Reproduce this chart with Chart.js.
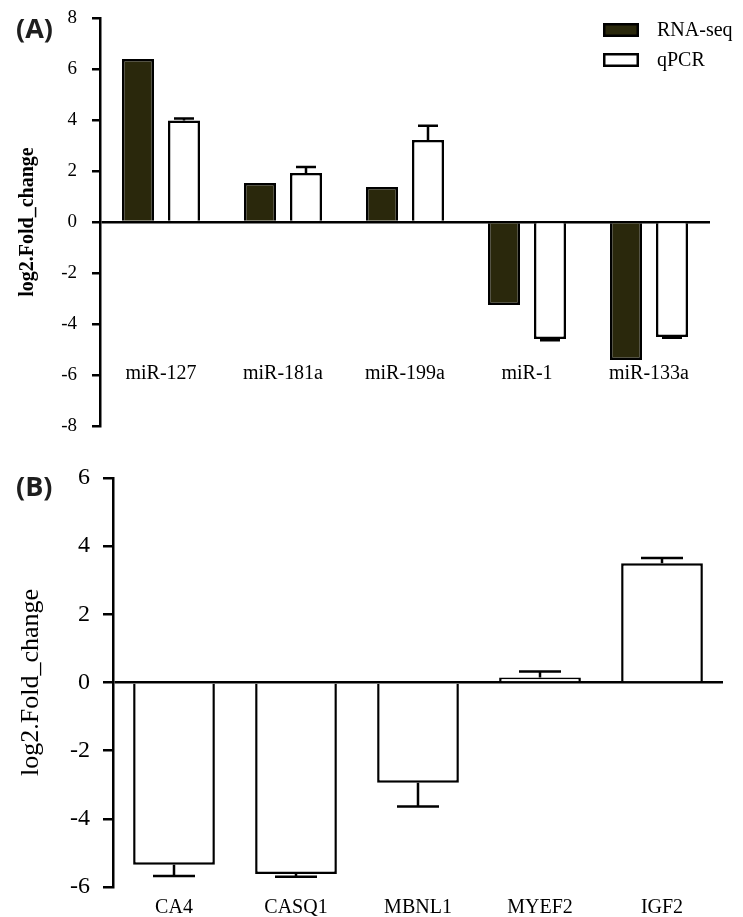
<!DOCTYPE html>
<html>
<head>
<meta charset="utf-8">
<title>log2 fold change</title>
<script src="https://cdn.jsdelivr.net/npm/chart.js@4"></script>
<style>
  body { margin: 0; background: #fff; }
  #wrap { position: relative; width: 743px; height: 917px; }
  .panel { position: absolute; left: 0; width: 743px; }
  #boxA { top: 0; height: 440px; }
  #boxB { top: 440px; height: 477px; }
  .tag { position: absolute; left: 16px; font-family: "Open Sans"; font-weight: bold; font-size: 27px; line-height: 27px; color: #1e1e1e; }
</style>
</head>
<body>
<div id="wrap">
  <div class="panel" id="boxA"><canvas id="chartA"></canvas></div>
  <div class="panel" id="boxB"><canvas id="chartB"></canvas></div>
  <div class="tag" style="top:14px">(A)</div>
  <div class="tag" style="top:472px">(B)</div>
</div>
<script>
// Panel A: miRNAs, RNA-seq vs qPCR
const miRNAs = ['miR-127', 'miR-181a', 'miR-199a', 'miR-1', 'miR-133a'];
const rnaSeq = [6.39, 1.53, 1.37, -3.25, -5.41];
const qpcrMiR = [3.98, 1.92, 3.22, -4.59, -4.51];
const qpcrMiRErr = [0.08, 0.24, 0.55, 0.05, 0.03];

// Panel B: genes, qPCR only
const genes = ['CA4', 'CASQ1', 'MBNL1', 'MYEF2', 'IGF2'];
const qpcrGene = [-5.35, -5.62, -2.94, 0.15, 3.50];
const qpcrGeneErr = [0.33, 0.08, 0.70, 0.17, 0.15];

const serif = '"Liberation Serif", "Times New Roman", serif';
const darkFill = '#2a280c';

// draws one-sided error bars away from zero
const errorBars = {
    id: 'errorBars',
    afterDatasetsDraw(chart, args, opts) {
        const ctx = chart.ctx;
        const yScale = chart.scales.y;
        chart.data.datasets.forEach((ds, di) => {
            if (!ds.errors) return;
            const meta = chart.getDatasetMeta(di);
            meta.data.forEach((bar, i) => {
                const v = ds.data[i];
                const e = ds.errors[i];
                const end = yScale.getPixelForValue(v < 0 ? v - e : v + e);
                ctx.save();
                ctx.strokeStyle = '#000';
                ctx.lineWidth = opts.width;
                ctx.beginPath();
                ctx.moveTo(bar.x, bar.y);
                ctx.lineTo(bar.x, end);
                ctx.moveTo(bar.x - opts.cap / 2, end);
                ctx.lineTo(bar.x + opts.cap / 2, end);
                ctx.stroke();
                ctx.restore();
            });
        });
    }
};

// simple box legend in the top right corner
const boxLegend = {
    id: 'boxLegend',
    afterDraw(chart, args, opts) {
        const ctx = chart.ctx;
        chart.data.datasets.forEach((ds, i) => {
            const y = opts.y + i * opts.rowGap;
            ctx.save();
            ctx.fillStyle = ds.backgroundColor;
            ctx.fillRect(opts.x, y, opts.w, opts.h);
            ctx.strokeStyle = '#000';
            ctx.lineWidth = 2.5;
            ctx.strokeRect(opts.x + 1.25, y + 1.25, opts.w - 2.5, opts.h - 2.5);
            ctx.fillStyle = '#000';
            ctx.font = '20px ' + serif;
            ctx.textBaseline = 'middle';
            ctx.fillText(ds.label, opts.x + opts.textGap, y + opts.h / 2 + 1);
            ctx.restore();
        });
    }
};

const zeroGrid = (tickLen, tickW) => ({
    color: c => (c.tick && c.tick.value === 0) ? '#000' : 'rgba(0,0,0,0)',
    lineWidth: 2.5,
    tickColor: '#000',
    tickLength: tickLen,
    tickWidth: tickW
});

// fixed axis width; drop the extra top/bottom room the tick padding asks for
const fixY = w => s => {
    s.width = w;
    s.paddingTop = 0;
    s.paddingBottom = 0;
};

const chartA = new Chart(document.getElementById('chartA'), {
    type: 'bar',
    data: {
        labels: miRNAs,
        datasets: [
            {
                label: 'RNA-seq',
                data: rnaSeq,
                backgroundColor: darkFill,
                borderColor: '#000',
                borderWidth: 2.5,
                categoryPercentage: 0.754,
                barPercentage: 0.696
            },
            {
                label: 'qPCR',
                data: qpcrMiR,
                errors: qpcrMiRErr,
                backgroundColor: '#fff',
                borderColor: '#000',
                borderWidth: 2.5,
                categoryPercentage: 0.754,
                barPercentage: 0.696
            }
        ]
    },
    options: {
        responsive: true,
        maintainAspectRatio: false,
        animation: false,
        layout: { padding: { top: 18, bottom: 14, left: 0, right: 33 } },
        plugins: {
            legend: { display: false },
            tooltip: { enabled: false },
            errorBars: { width: 2.5, cap: 20 },
            boxLegend: { x: 603, y: 23, w: 36, h: 14, rowGap: 30, textGap: 54 }
        },
        scales: {
            x: {
                // labels sit inside the plot, level with the -6 tick
                position: { y: -5 },
                grid: { display: false, drawTicks: false },
                border: { display: false },
                ticks: { color: '#000', font: { family: serif, size: 20 }, padding: 12 }
            },
            y: {
                min: -8,
                max: 8,
                ticks: { stepSize: 2, color: '#000', font: { family: serif, size: 19 }, padding: 15 },
                grid: zeroGrid(8, 2.5),
                border: { display: true, color: '#000', width: 2.5 },
                title: {
                    display: true,
                    text: 'log2.Fold_change',
                    color: '#000',
                    font: { family: serif, size: 20, weight: 'bold' },
                    padding: { top: 16, bottom: 0 }
                },
                afterFit: fixY(100)
            }
        }
    },
    plugins: [errorBars, boxLegend]
});

const chartB = new Chart(document.getElementById('chartB'), {
    type: 'bar',
    data: {
        labels: genes,
        datasets: [{
            label: 'qPCR',
            data: qpcrGene,
            errors: qpcrGeneErr,
            backgroundColor: '#fff',
            borderColor: '#000',
            borderWidth: 2.5,
            categoryPercentage: 1,
            barPercentage: 0.67
        }]
    },
    options: {
        responsive: true,
        maintainAspectRatio: false,
        animation: false,
        layout: { padding: { top: 38, bottom: 0, left: 0, right: 20 } },
        plugins: {
            legend: { display: false },
            tooltip: { enabled: false },
            errorBars: { width: 2.5, cap: 42 }
        },
        scales: {
            x: {
                position: 'bottom',
                grid: { display: false, drawTicks: false },
                border: { display: false },
                ticks: { color: '#000', font: { family: serif, size: 20 }, padding: 9 },
                afterFit: s => { s.height = 30; }
            },
            y: {
                min: -6,
                max: 6,
                ticks: { stepSize: 2, color: '#000', font: { family: serif, size: 24 }, padding: 13 },
                grid: zeroGrid(10, 2.5),
                border: { display: true, color: '#000', width: 2.5 },
                title: {
                    display: true,
                    text: 'log2.Fold_change',
                    color: '#000',
                    font: { family: serif, size: 26 },
                    padding: { top: 16, bottom: 0 }
                },
                afterFit: fixY(113)
            }
        }
    },
    plugins: [errorBars]
});
</script>
</body>
</html>
